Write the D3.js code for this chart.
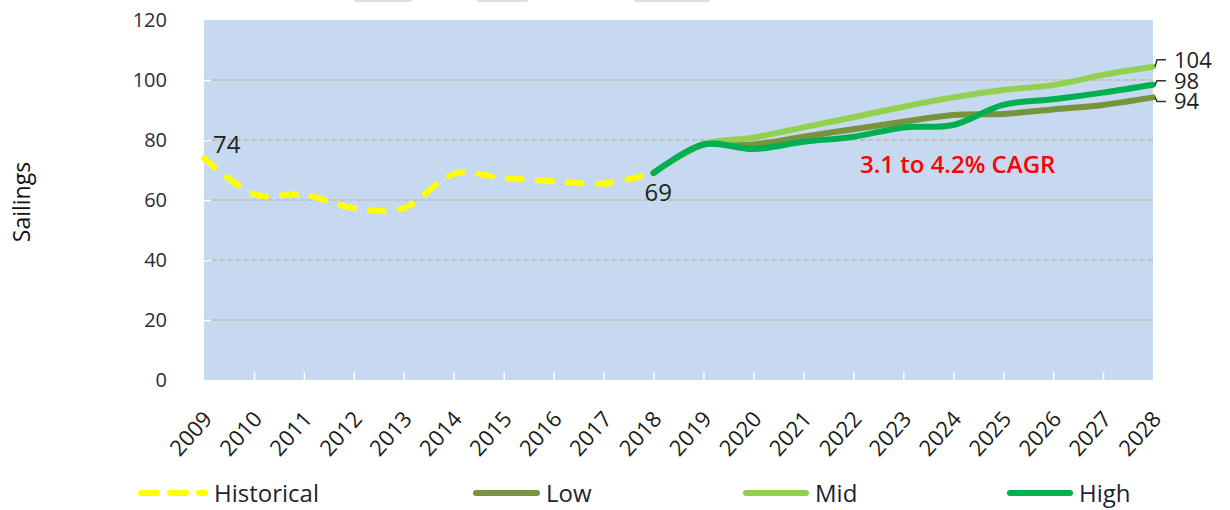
<!DOCTYPE html>
<html>
<head>
<meta charset="utf-8">
<script src="https://cdn.jsdelivr.net/npm/d3@7"></script>
<style>
  body { margin: 0; background: #fff; }
  svg { display: block; font-family: "Open Sans", sans-serif; }
</style>
</head>
<body>
<script>
// data
const years = [2009, 2010, 2011, 2012, 2013, 2014, 2015, 2016, 2017, 2018,
               2019, 2020, 2021, 2022, 2023, 2024, 2025, 2026, 2027, 2028];
const histYears = [2009, 2010, 2011, 2012, 2013, 2014, 2015, 2016, 2017, 2018];
const historical = [74, 62, 61.8, 57.3, 57.3, 68.7, 67.3, 66.3, 65.5, 69];
const forecastYears = [2018, 2019, 2020, 2021, 2022, 2023, 2024, 2025, 2026, 2027, 2028];
const low  = [69, 78.5, 78.5, 81.1, 83.6, 86.1, 88.3, 88.7, 90.2, 91.7, 94.2];
const mid  = [69, 78.5, 80.8, 84.2, 87.6, 91.1, 94.2, 96.7, 98.3, 101.7, 104.4];
const high = [69, 78.5, 77.0, 79.4, 81.1, 84.2, 85.0, 91.7, 93.6, 95.8, 98.4];
const yTicks = [0, 20, 40, 60, 80, 100, 120];
const seriesNames = ["Historical", "Low", "Mid", "High"];
const endLabels = ["104", "98", "94"];

const W = 1230, H = 510;
const plot = { left: 204, right: 1153, top: 20, bottom: 380 };

const svg = d3.select("body").append("svg")
  .attr("width", W)
  .attr("height", H);

// stray grey tabs along the top edge of the original
[[354, 58], [477, 51], [634, 76]].forEach(function(t) {
  svg.append("rect").attr("x", t[0]).attr("y", -3).attr("width", t[1]).attr("height", 5)
    .attr("rx", 2).attr("fill", "#dedede");
});

let x = d3.scaleLinear().domain([2009, 2028]).range([plot.left, plot.right]);
let y = d3.scaleLinear().domain([0, 120]).range([plot.bottom, plot.top]);

// plot background
svg.append("rect")
  .attr("x", plot.left).attr("y", plot.top)
  .attr("width", plot.right - plot.left).attr("height", plot.bottom - plot.top)
  .attr("fill", "#C6D9F0");

// gridlines
svg.append("g").selectAll("line")
  .data(yTicks.filter(function(d) { return d > 0 && d < 120; }))
  .enter().append("line")
  .attr("x1", plot.left).attr("x2", plot.right)
  .attr("y1", function(d) { return y(d); })
  .attr("y2", function(d) { return y(d); })
  .attr("stroke", "#BDB8AE")
  .attr("stroke-width", 1.5)
  .attr("stroke-dasharray", "5,3");

// y axis
let yaxis = svg.append("g")
  .attr("transform", "translate(" + plot.left + ",0)")
  .call(d3.axisLeft(y).tickValues(yTicks).tickSize(-7).tickPadding(37));
yaxis.select(".domain").remove();
yaxis.selectAll(".tick line").attr("stroke", "#fff").attr("stroke-width", 1.5)
  .filter(function(d) { return d === 0 || d === 120; }).remove();
yaxis.selectAll("text")
  .attr("font-size", 20)
  .attr("font-family", "Open Sans, sans-serif")
  .attr("fill", "#2b2b3a");

// x axis
let xaxis = svg.append("g")
  .attr("transform", "translate(0," + plot.bottom + ")")
  .call(d3.axisBottom(x).tickValues(years).tickSize(-8).tickFormat(d3.format("d")));
xaxis.select(".domain").remove();
xaxis.selectAll(".tick line").attr("stroke", "#fff").attr("stroke-width", 1.5)
  .filter(function(d) { return d === 2009 || d === 2028; }).remove();
xaxis.selectAll("text")
  .attr("font-size", 22)
  .attr("font-family", "Open Sans, sans-serif")
  .attr("fill", "#1a1a1a")
  .attr("text-anchor", "end")
  .attr("y", 0).attr("dy", 0)
  .attr("transform", "translate(9,40) rotate(-48)");

// axis title
svg.append("text")
  .attr("transform", "translate(30," + (y(60) + 2) + ") rotate(-90)")
  .attr("text-anchor", "middle")
  .attr("font-size", 23)
  .attr("fill", "#111")
  .text("Sailings");

// lines
let line = d3.line()
  .x(function(d) { return x(d[0]); })
  .y(function(d) { return y(d[1]); })
  .curve(d3.curveCardinal.tension(0));

let colors = { Historical: "#FFFF00", Low: "#77933C", Mid: "#92D050", High: "#00B050" };

svg.append("path")
  .datum(d3.zip(histYears, historical))
  .attr("d", line)
  .attr("fill", "none")
  .attr("stroke", colors.Historical)
  .attr("stroke-width", 6)
  .attr("stroke-linecap", "round")
  .attr("stroke-dasharray", "14,16");

[["Low", low], ["Mid", mid], ["High", high]].forEach(function(s) {
  svg.append("path")
    .datum(d3.zip(forecastYears, s[1]))
    .attr("d", line)
    .attr("fill", "none")
    .attr("stroke", colors[s[0]])
    .attr("stroke-width", 6)
    .attr("stroke-linecap", "round")
    .attr("stroke-linejoin", "round");
});

// data labels
svg.append("text")
  .attr("x", x(2009) + 9).attr("y", y(historical[0]) - 5)
  .attr("font-size", 24).attr("fill", "#222")
  .text(historical[0]);
svg.append("text")
  .attr("x", x(2018) - 9).attr("y", y(historical[historical.length - 1]) + 28)
  .attr("font-size", 24).attr("fill", "#222")
  .text(historical[historical.length - 1]);

// end labels with leader lines (mid, high, low)
let ends = [mid[mid.length - 1], high[high.length - 1], low[low.length - 1]];
let labelShift = [-7, -4, 4];
ends.forEach(function(v, i) {
  let x0 = x(2028), y0 = y(v), ly = y0 + labelShift[i];
  svg.append("path")
    .attr("d", "M" + (x0 + 2) + "," + y0 + "L" + (x0 + 4) + "," + ly + "L" + (x0 + 13) + "," + ly)
    .attr("fill", "none").attr("stroke", "#333").attr("stroke-width", 1.5);
  svg.append("text")
    .attr("x", x0 + 21).attr("y", ly + 8)
    .attr("font-size", 22).attr("fill", "#222")
    .text(endLabels[i]);
});

// CAGR note
svg.append("text")
  .attr("x", 860).attr("y", 173)
  .attr("font-size", 24).attr("font-weight", 600)
  .attr("fill", "#FF0000")
  .text("3.1 to 4.2% CAGR");

// legend
let legendX = [138, 473, 743, 1007];
let legendLen = [70, 67, 66, 66];
let legend = svg.append("g").attr("transform", "translate(0,493)");
seriesNames.forEach(function(name, i) {
  legend.append("line")
    .attr("x1", legendX[i] + 3).attr("x2", legendX[i] + legendLen[i] - 3)
    .attr("y1", 0).attr("y2", 0)
    .attr("stroke", colors[name])
    .attr("stroke-width", 6)
    .attr("stroke-linecap", "round")
    .attr("stroke-dasharray", name === "Historical" ? "16,13" : null);
  legend.append("text")
    .attr("x", legendX[i] + legendLen[i] + 6).attr("y", 9)
    .attr("font-size", 24).attr("fill", "#1f1f33")
    .text(name);
});
</script>
</body>
</html>
